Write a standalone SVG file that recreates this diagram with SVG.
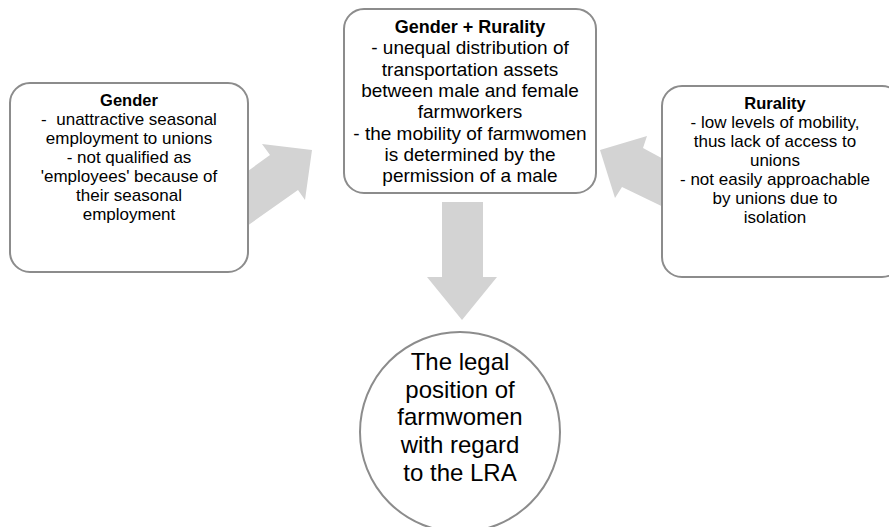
<svg xmlns="http://www.w3.org/2000/svg" width="889" height="527" viewBox="0 0 889 527">
<style>
.box{fill:#fff;stroke:#8c8c8c;stroke-width:2}
.arr{fill:#d3d3d3;stroke:none}
text{font-family:"Liberation Sans",Arial,sans-serif;font-size:19px;fill:#000;text-anchor:middle}
.s{font-size:17px}
.b{font-weight:bold;font-size:18px}
.sb{font-weight:bold;font-size:16.5px}
.big{font-size:24px}
</style>
<rect width="889" height="527" fill="#fff"/>
<g id="connectors">
<polygon class="arr" points="230,184 270,155 262,144 312,150 305,200 298,190 230,238"/>
<polygon class="arr" points="680,168 643,148 647,136 600,150 615,198 622,187 680,215"/>
<polygon class="arr" points="442,202 483,202 483,277 497,277 462,320 427,277 442,277"/>
</g>
<g id="gender">
<rect class="box" x="10" y="83" width="238" height="189" rx="20"/>
<text x="129" y="106" class="sb">Gender</text>
<text x="129" y="125" class="s" xml:space="preserve">-  unattractive seasonal</text>
<text x="129" y="144" class="s">employment to unions</text>
<text x="129" y="163" class="s">- not qualified as</text>
<text x="129" y="182" class="s">'employees' because of</text>
<text x="129" y="201" class="s">their seasonal</text>
<text x="129" y="220" class="s">employment</text>
</g>
<g id="gender-rurality">
<rect class="box" x="344" y="9" width="252" height="184" rx="20"/>
<text x="470" y="33" class="b">Gender + Rurality</text>
<text x="470" y="54">- unequal distribution of</text>
<text x="470" y="76">transportation assets</text>
<text x="470" y="97">between male and female</text>
<text x="470" y="118">farmworkers</text>
<text x="470" y="140">- the mobility of farmwomen</text>
<text x="470" y="161">is determined by the</text>
<text x="470" y="182">permission of a male</text>
</g>
<g id="rurality">
<rect class="box" x="662" y="86" width="240" height="191" rx="20"/>
<text x="775" y="109" class="sb">Rurality</text>
<text x="775" y="128" class="s">- low levels of mobility,</text>
<text x="775" y="147" class="s">thus lack of access to</text>
<text x="775" y="166" class="s">unions</text>
<text x="775" y="185" class="s">- not easily approachable</text>
<text x="775" y="204" class="s">by unions due to</text>
<text x="775" y="223" class="s">isolation</text>
</g>
<g id="legal-position">
<circle class="box" cx="460" cy="432" r="100"/>
<text x="460" y="370" class="big">The legal</text>
<text x="460" y="398" class="big">position of</text>
<text x="460" y="425" class="big">farmwomen</text>
<text x="460" y="453" class="big">with regard</text>
<text x="460" y="481" class="big">to the LRA</text>
</g>
</svg>
